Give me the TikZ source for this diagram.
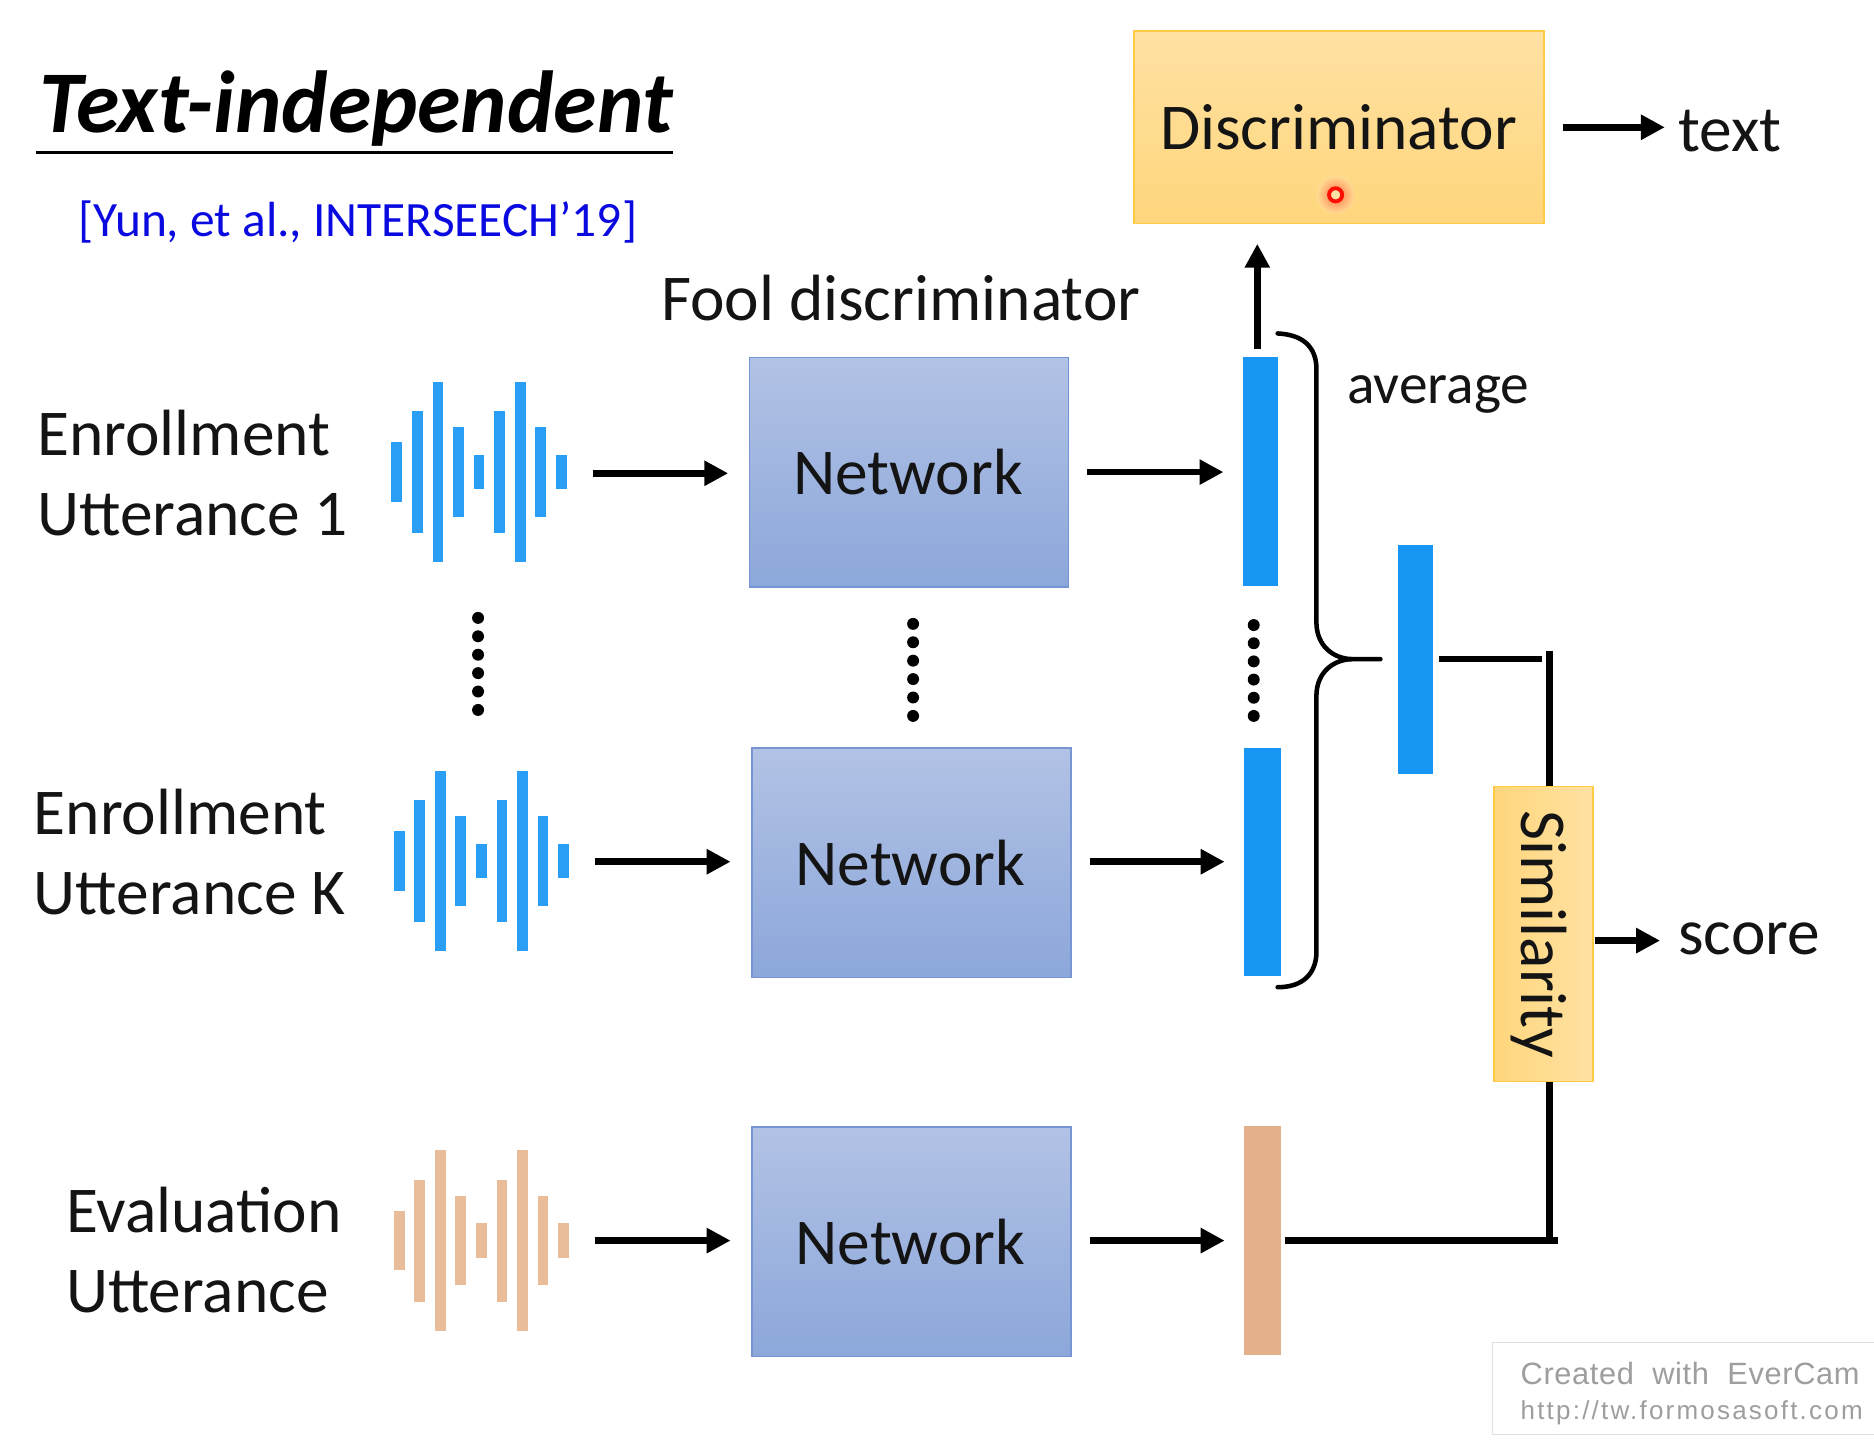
\documentclass[tikz,border=0pt]{standalone}
\usepackage{fontspec}
\setmainfont{Carlito}
\newfontfamily\wmfont[LetterSpace=2]{Liberation Sans}
\newfontfamily\wmspaced[LetterSpace=8.5]{Liberation Sans}
\usetikzlibrary{arrows.meta}
\def\uu{0.5976pt}
\definecolor{barblue}{HTML}{1796F3}
\definecolor{waveblue}{HTML}{2A9DF4}
\definecolor{bartan}{HTML}{E3B08A}
\definecolor{wavetan}{HTML}{E9BD9A}
\definecolor{citeblue}{HTML}{0A0AE0}
\tikzset{
  x=\uu, y=-\uu,
  label54/.style={inner sep=0pt, font=\fontsize{32.7}{40}\selectfont, text=black!92},
  twoline/.style={label54, align=left, anchor=west},
  netbox/.style={inner sep=0pt, minimum width=267*\uu, minimum height=192*\uu, draw=netedge, line width=1.4*\uu,
     top color=nettop, bottom color=netbot, font=\fontsize{32.7}{40}\selectfont, text=black!92},
  vecbar/.style={inner sep=0pt, draw=none},
  wavebox/.style={inner sep=0pt, minimum width=146*\uu, minimum height=152*\uu},
  arr/.style={line width=5.4*\uu, -{Triangle[length=20*\uu, width=20*\uu]}},
  conn/.style={line width=5.2*\uu},
  bracelin/.style={line width=3.8*\uu, line cap=round},
  dotty/.style={fill=black, circle, inner sep=0pt, minimum size=10*\uu},
}
\definecolor{netedge}{HTML}{7695D2}
\definecolor{nettop}{HTML}{B2C2E5}
\definecolor{netbot}{HTML}{8CA7DA}
\definecolor{goldedge}{HTML}{FFCB45}
\definecolor{goldlight}{HTML}{FFE1A3}
\definecolor{golddark}{HTML}{FFD67C}
\newcommand{\wavebars}[3]{%
  \foreach \xx/\hh in {0/25,17.2/51,34.4/75.5,51.6/37.5,68.8/14.5,86/51,103.2/75.5,120.4/37.5,137.6/14.5}
    \fill[#3] ({#1+\xx-4.5},{#2-\hh}) rectangle ({#1+\xx+4.5},{#2+\hh});%
}
\begin{document}
\begin{tikzpicture}
\useasboundingbox (0,0) rectangle (1568,1216.6);
% title
\node[inner sep=0pt, anchor=base west, font=\fontsize{44}{52}\selectfont\bfseries\itshape] (title) at (33,110.5) {Text-independent};
\draw[line width=2.8*\uu] (30,127.5) -- (563,127.5);
\node[inner sep=0pt, anchor=base west, font=\fontsize{24.7}{30}\selectfont, text=citeblue] (cite) at (65,198) {[Yun, et al., INTERSEECH’19]};
\node[label54, anchor=base west] (fool) at (553,268) {Fool discriminator};
% labels
\node[twoline] (lab1) at (31,396) {Enrollment\\Utterance 1};
\node[twoline] (labk) at (28,713) {Enrollment\\Utterance K};
\node[twoline] (labe) at (55,1046) {Evaluation\\Utterance};
% waves
\node[wavebox] (wave1) at (400.5,396) {};
\node[wavebox] (wave2) at (402.5,721) {};
\node[wavebox] (wave3) at (402.5,1038) {};
\wavebars{332}{395}{waveblue}
\wavebars{334}{720.5}{waveblue}
\wavebars{334}{1038}{wavetan}
% networks
\node[netbox] (net1) at (760.5,395) {\hspace*{-1pt}\raisebox{-1.3pt}{Network}};
\node[netbox] (net2) at (762.5,722) {\hspace*{-1pt}Network};
\node[netbox] (net3) at (762.5,1039) {\hspace*{-1pt}\raisebox{-0.8pt}{Network}};
% feature bars
\node[vecbar, fill=barblue, minimum width=29*\uu, minimum height=191*\uu] (bar1) at (1054.5,394.5) {};
\node[vecbar, fill=barblue, minimum width=31*\uu, minimum height=191*\uu] (bar2) at (1056.5,721.5) {};
\node[vecbar, fill=bartan, minimum width=31*\uu, minimum height=191*\uu] (bar3) at (1056.5,1038) {};
\node[vecbar, fill=barblue, minimum width=29*\uu, minimum height=192*\uu] (avg) at (1184.5,552) {};
% discriminator & similarity
\node[inner sep=0pt, minimum width=343*\uu, minimum height=161*\uu, draw=goldedge, line width=1.4*\uu,
  top color=goldlight, bottom color=golddark] (disc) at (1120.5,106.5) {};
\node[label54] (disctext) at (1120,106.5) {Discriminator};
\node[inner sep=0pt, minimum width=83*\uu, minimum height=247*\uu, draw=goldedge, line width=1.4*\uu,
  left color=golddark, right color=goldlight] (sim) at (1291.5,781.5) {};
\node[label54, rotate=-90] (simtext) at (1288,782) {Similarity};
% outputs
\node[label54, anchor=base west] (text) at (1404,126.5) {text};
\node[label54, anchor=base west] (score) at (1404,799) {score};
\node[inner sep=0pt, anchor=base west, font=\fontsize{28.7}{34}\selectfont, text=black!92] (average) at (1127,338) {average};
% red pointer
\shade[inner color=red!55!orange!70, outer color=goldlight!60!golddark] (1117.5,163) circle (16);
\node[circle, draw=red!90!orange, line width=3.2*\uu, fill=goldlight, inner sep=0pt, minimum size=11*\uu] (ptr) at (1117.5,163) {};
% arrows
\draw[arr, shorten <=22*\uu, shorten >=17*\uu] (wave1.east) -- (wave1.east -| net1.west);
\draw[arr, shorten <=22*\uu, shorten >=17*\uu] (wave2.east) -- (wave2.east -| net2.west);
\draw[arr, shorten <=22*\uu, shorten >=17*\uu] (wave3.east) -- (wave3.east -| net3.west);
\draw[arr, shorten <=15*\uu, shorten >=16*\uu] (net1.east) -- (net1.east -| bar1.west);
\draw[arr, shorten <=15*\uu, shorten >=16*\uu] (wave2.east -| net2.east) -- (wave2.east -| bar2.west);
\draw[arr, shorten <=15*\uu, shorten >=16*\uu] (wave3.east -| net3.east) -- (wave3.east -| bar3.west);
\coordinate (upfrom) at (1052,292);
\draw[arr] (upfrom) -- (upfrom |- 0,204);
\draw[arr, shorten <=15*\uu] (disc.east) ++(0,0) -- (1393,106.5);
\draw[arr, shorten <=1*\uu] (sim.east |- 0,787) -- (1389,787);
% brace
\coordinate (btop) at (1069,279);
\coordinate (bbot) at (1069,826);
\coordinate (btip) at (1131,551.5);
\coordinate (bend) at (1155,551.5);
\draw[bracelin] (btop) .. controls (1090,280) and (1101,290) .. (1101.5,308) -- (1101.5,522)
   .. controls (1102,540) and (1115,551) .. (btip) -- (bend);
\draw[bracelin] (btip) .. controls (1115,552) and (1102,563) .. (1101.5,581) -- (1101.5,797)
   .. controls (1101,815) and (1090,826) .. (bbot);
% connectors to similarity
\coordinate (join) at (1296.5,551.5);
\draw[conn] (1204,551.5) -- (1290,551.5);
\draw[conn] (1296.5,545) -- (sim.north -| join);
\draw[conn] (sim.south -| join) -- (join |- bar3.center);
\draw[conn] (1075,1038) -- (1303.5,1038);
% dots
\foreach \i in {0,...,5} {
  \node[dotty] at (400,{517+\i*15.4}) {};
  \node[dotty] at (764,{522+\i*15.4}) {};
  \node[dotty] at (1049,{523+\i*15.2}) {};
}
% watermark
\draw[draw=black!12, line width=1*\uu, fill=white] (1568,1123.5) -- (1249,1123.5) -- (1249,1200.5) -- (1568,1200.5);
\node[inner sep=0pt, anchor=base west, text=black!38, font=\fontsize{15.4}{18}\selectfont\wmfont] (wm1) at (1272,1158) {Created\hspace{0.6em}with\hspace{0.6em}EverCam};
\node[inner sep=0pt, anchor=base west, text=black!38, font=\fontsize{13}{15}\selectfont\wmspaced] (wm2) at (1272,1188) {http://tw.formosasoft.com};
\end{tikzpicture}
\end{document}
